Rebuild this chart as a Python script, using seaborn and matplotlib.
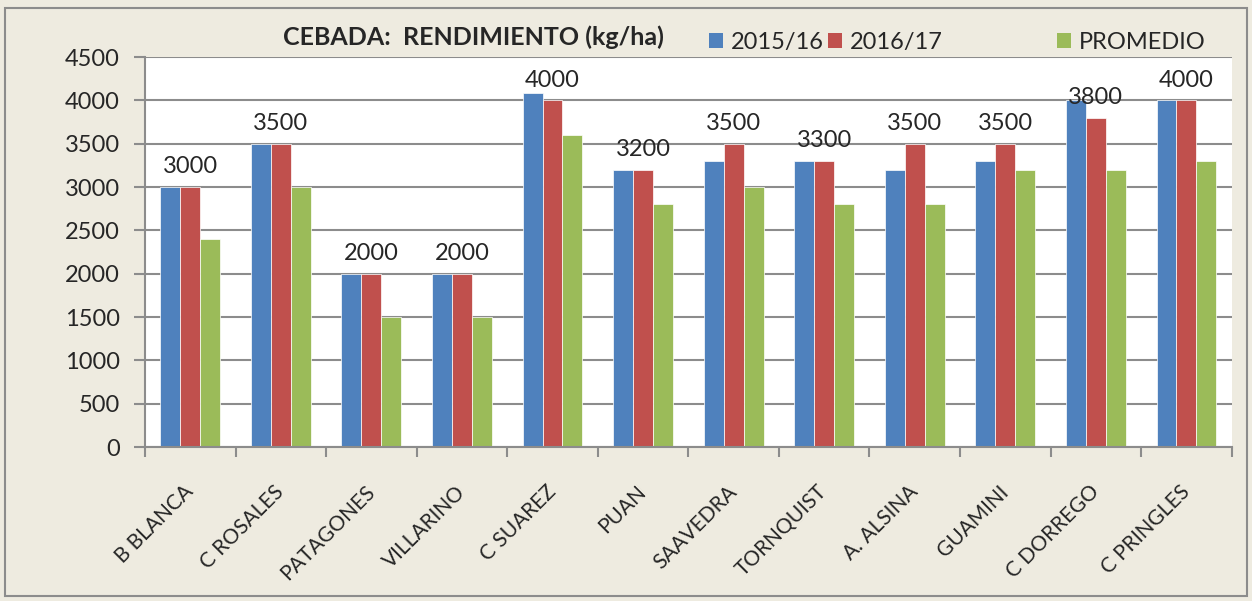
import pandas as pd
import seaborn as sns
import matplotlib.pyplot as plt
import matplotlib.transforms as mtransforms
from matplotlib.patches import Rectangle, Patch
import numpy as np

#----------------------
# Data
#----------------------
partidos = ['B BLANCA', 'C ROSALES', 'PATAGONES', 'VILLARINO', 'C SUAREZ', 'PUAN',
            'SAAVEDRA', 'TORNQUIST', 'A. ALSINA', 'GUAMINI', 'C DORREGO', 'C PRINGLES']
camp_2015 = [3000, 3500, 2000, 2000, 4080, 3200, 3300, 3300, 3200, 3300, 4000, 4000]
camp_2016 = [3000, 3500, 2000, 2000, 4000, 3200, 3500, 3300, 3500, 3500, 3800, 4000]
promedio = [2400, 3000, 1500, 1500, 3600, 2800, 3000, 2800, 2800, 3200, 3200, 3300]
series = ['2015/16', '2016/17', 'PROMEDIO']

df = pd.DataFrame({'Partido': partidos, '2015/16': camp_2015,
                   '2016/17': camp_2016, 'PROMEDIO': promedio})
melted = df.melt(id_vars='Partido', var_name='Serie', value_name='Rendimiento')

colors = ['#4F81BD', '#C0504D', '#9BBB59']
bg = '#EEEBE0'
grid_c = '#8C8C8C'

sns.set_style('white')
plt.rcParams['font.family'] = ['Lato', 'DejaVu Sans']

#-----------
# Plot bars
#-----------
fig = plt.figure(figsize=(12.52, 6.01), dpi=100, facecolor=bg)
ax = fig.add_axes([0.1158, 0.2562, 0.868, 0.6488])
ax.set_facecolor('white')

sns.barplot(data=melted, x='Partido', y='Rendimiento', hue='Serie',
            hue_order=series, palette=colors, width=0.66, gap=0,
            saturation=1, edgecolor='white', linewidth=0.5, legend=False, ax=ax)

ax.bar_label(ax.containers[1], fmt='%d', padding=7, fontsize=17)

# axes and grid
ax.set_ylim(0, 4500)
ax.set_xlim(-0.5, len(partidos) - 0.5)
ax.set_yticks(np.arange(0, 4501, 500))
ax.yaxis.grid(True, color=grid_c, linewidth=1.5)
ax.set_axisbelow(True)
for s in ['top', 'right']:
    ax.spines[s].set_visible(False)
for s in ['left', 'bottom']:
    ax.spines[s].set_color(grid_c)
    ax.spines[s].set_linewidth(1.5)

ax.tick_params(axis='y', length=8, width=1.5, color=grid_c, labelsize=17, pad=10, left=True)
ax.set_xticks(np.arange(-0.5, len(partidos)), minor=True)
ax.tick_params(axis='x', which='minor', length=7, width=1.5, color=grid_c, bottom=True)
ax.tick_params(axis='x', which='major', length=0, pad=30)
ax.set_xticks(range(len(partidos)))
ax.set_xticklabels(partidos, rotation=45, ha='right', va='center',
                   rotation_mode='anchor', fontsize=15)
shift = mtransforms.ScaledTranslation(0.0, 0, fig.dpi_scale_trans)
for lab in ax.get_xticklabels():
    lab.set_transform(lab.get_transform() + shift)
ax.set_xlabel('')
ax.set_ylabel('')

# title and legend
fig.text(0.226, 0.938, 'CEBADA:  RENDIMIENTO (kg/ha)', fontsize=18, fontweight='bold',
         va='center', ha='left')
legend_x = [0.566, 0.661, 0.844]
for serie, c, lx in zip(series, colors, legend_x):
    fig.legend([Patch(facecolor=c, edgecolor='none')], [serie], loc='center left',
               bbox_to_anchor=(lx, 0.93), frameon=False, fontsize=17,
               handlelength=0.6, handleheight=0.6, handletextpad=0.35,
               borderaxespad=0, borderpad=0)

# outer border
fig.patches.append(Rectangle((0.004, 0.008), 0.992, 0.979, transform=fig.transFigure,
                             fill=False, edgecolor='#8C8C8C', linewidth=1.5))

plt.savefig('out.png', dpi=100, facecolor=bg)
